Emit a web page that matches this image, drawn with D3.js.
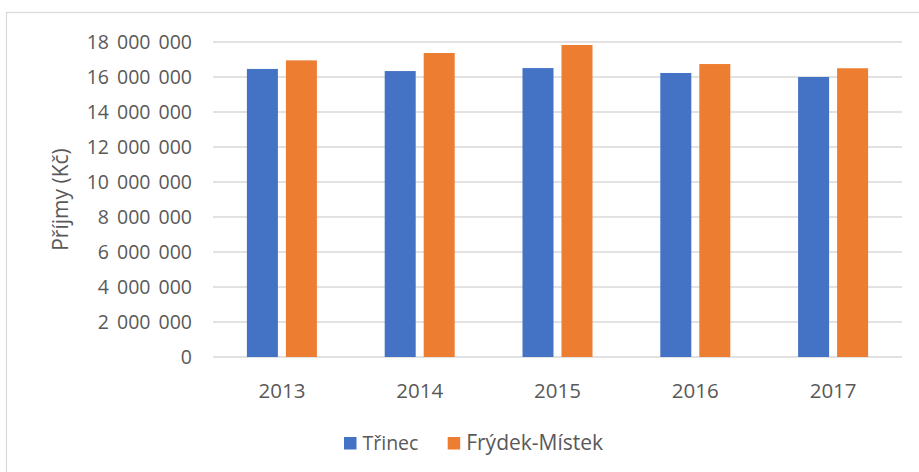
<!DOCTYPE html>
<html><head><meta charset="utf-8">
<script src="https://cdn.jsdelivr.net/npm/d3@7/dist/d3.min.js"></script>
<style>
body{margin:0;background:#fff;}
svg text{font-family:"Open Sans",sans-serif;fill:#595959;}
</style></head>
<body><svg id="c" width="919" height="472"></svg>
<script>
const years = ["2013","2014","2015","2016","2017"];
const seriesNames = ["Třinec","Frýdek-Místek"];
const trinec = [16460000,16340000,16510000,16230000,16000000];
const frydek = [16950000,17370000,17830000,16740000,16500000];
const yTicks = [0,2000000,4000000,6000000,8000000,10000000,12000000,14000000,16000000,18000000];
const colors = ["#4472C4","#ED7D31"];

const svg = d3.select("#c");
const W=919,H=472;
const m={l:213,r:17,t:42,b:115};
const pw=W-m.l-m.r, ph=H-m.t-m.b;

svg.append("rect").attr("x",6.5).attr("y",12.5).attr("width",W+10).attr("height",H+10)
  .attr("fill","none").attr("stroke","#d9d9d9").attr("stroke-width",1.2);

const x=d3.scaleBand().domain(years).range([m.l,m.l+pw]);
const y=d3.scaleLinear().domain([0,18000000]).range([m.t+ph,m.t]);
const fmt = d3.formatLocale({decimal:",",thousands:" ",grouping:[3],currency:["",""]}).format(",d");

const g=svg.append("g");
g.selectAll("line.grid").data(yTicks).join("line").attr("class","grid")
  .attr("x1",m.l).attr("x2",m.l+pw).attr("y1",d=>y(d)).attr("y2",d=>y(d))
  .attr("stroke","#d9d9d9").attr("stroke-width",1.3);

const yAxis=d3.axisLeft(y).tickValues(yTicks).tickFormat(fmt).tickSize(0).tickPadding(21);
const ya=svg.append("g").attr("transform",`translate(${m.l},0)`).call(yAxis);
ya.select(".domain").remove();
ya.selectAll("text").style("font-size","19.5px").style("word-spacing","3px").attr("fill","#595959");

const xAxis=d3.axisBottom(x).tickSize(0);
const xa=svg.append("g").attr("transform",`translate(0,${m.t+ph})`).call(xAxis);
xa.select(".domain").remove();
xa.selectAll("text").attr("y",41).attr("dy",0).style("font-size","20.5px").attr("fill","#595959");

const bw=31, gap=8;
const data=[trinec,frydek];
data.forEach((vals,si)=>{
  svg.append("g").selectAll("rect").data(years).join("rect")
    .attr("x",(d,i)=>x(d)+x.bandwidth()/2 + (si===0 ? -gap/2-bw : gap/2))
    .attr("width",bw)
    .attr("y",(d,i)=>y(vals[i]))
    .attr("height",(d,i)=>y(0)-y(vals[i]))
    .attr("fill",colors[si]);
});

svg.append("text").attr("transform",`translate(68,${m.t+ph/2}) rotate(-90)`)
  .attr("text-anchor","middle").style("font-size","21px").text("Příjmy (Kč)");

const leg=svg.append("g");
const legX=[344,447.7];
seriesNames.forEach((n,i)=>{
  leg.append("rect").attr("x",legX[i]).attr("y",437).attr("width",12.5).attr("height",12.5).attr("fill",colors[i]);
  leg.append("text").attr("x",legX[i]+18.5).attr("y",450).style("font-size",i===0?"19.5px":"21px").text(n);
});
</script></body></html>
